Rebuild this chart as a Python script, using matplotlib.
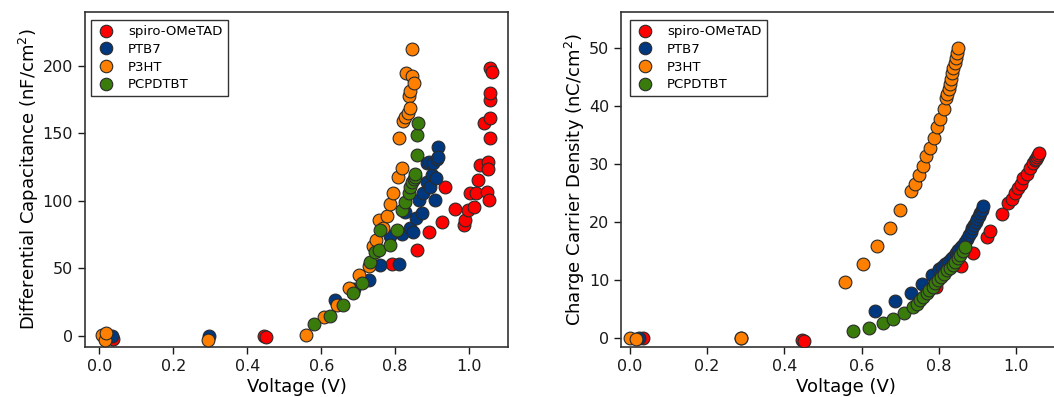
import matplotlib.pyplot as plt
from matplotlib.lines import Line2D

# Differential capacitance (nF/cm^2) vs voltage (V)
cap_spiro_v = [0.037, 0.445, 0.451, 0.791, 0.860, 0.890, 0.926, 0.935, 0.962, 0.985, 0.989,
               0.998, 1.012, 1.003, 1.019, 1.025, 1.030, 1.039, 1.048, 1.054, 1.052, 1.052,
               1.055, 1.057, 1.055, 1.055, 1.057, 1.063]
cap_spiro = [-2.4, 0.0, -0.5, 53.3, 63.6, 77.2, 84.6, 110.5, 93.7, 82.0, 85.8,
             93.2, 95.7, 105.6, 105.6, 115.4, 126.5, 157.8, 106.8, 100.6, 129.0, 123.3,
             146.7, 161.5, 174.6, 180.0, 198.0, 195.0]

cap_ptb7_v = [0.033, 0.297, 0.638, 0.689, 0.728, 0.759, 0.786, 0.809, 0.818, 0.827, 0.840,
              0.849, 0.855, 0.863, 0.872, 0.876, 0.885, 0.886, 0.892, 0.895, 0.899, 0.903,
              0.908, 0.910, 0.913, 0.915, 0.917]
cap_ptb7 = [0.0, 0.0, 26.6, 35.0, 41.4, 52.5, 74.0, 53.3, 75.5, 92.0, 80.0,
            77.0, 87.0, 100.6, 90.8, 105.6, 114.0, 128.0, 129.0, 110.5, 119.0, 127.8,
            100.6, 116.7, 131.0, 139.6, 132.7]

cap_p3ht_v = [0.006, 0.015, 0.019, 0.294, 0.558, 0.607, 0.642, 0.675, 0.703, 0.730, 0.739,
              0.748, 0.755, 0.768, 0.777, 0.786, 0.795, 0.807, 0.811, 0.818, 0.822, 0.827,
              0.830, 0.834, 0.836, 0.840, 0.840, 0.845, 0.845, 0.852]
cap_p3ht = [0.7, -3.0, 2.4, -3.0, 0.7, 13.8, 22.7, 35.7, 45.0, 52.0, 66.3,
            71.0, 85.8, 79.7, 88.8, 98.0, 106.0, 117.4, 146.3, 124.0, 159.3, 161.8,
            194.4, 165.2, 177.6, 168.5, 181.5, 192.4, 212.0, 187.4]

cap_pcpdtbt_v = [0.579, 0.624, 0.660, 0.687, 0.710, 0.732, 0.745, 0.755, 0.760, 0.786, 0.804,
                 0.818, 0.827, 0.836, 0.840, 0.845, 0.850, 0.854, 0.854, 0.858, 0.859, 0.861]
cap_pcpdtbt = [8.9, 15.0, 23.0, 32.0, 39.0, 55.0, 62.4, 63.6, 78.4, 67.3, 78.4,
               93.2, 99.4, 105.6, 110.5, 114.0, 116.0, 118.0, 120.0, 134.0, 148.7, 157.8]

# Charge carrier density (nC/cm^2) vs voltage (V)
chg_spiro_v = [0.035, 0.447, 0.452, 0.793, 0.857, 0.889, 0.926, 0.933, 0.963, 0.980, 0.989,
               0.997, 1.006, 1.012, 1.019, 1.028, 1.036, 1.043, 1.049, 1.053, 1.055, 1.058, 1.060]
chg_spiro = [0.0, -0.4, -0.5, 8.7, 12.4, 14.6, 17.3, 18.4, 21.3, 23.2, 24.0,
             24.9, 25.8, 26.6, 27.5, 28.3, 29.2, 30.1, 30.6, 30.9, 31.2, 31.5, 31.9]

chg_ptb7_v = [0.024, 0.288, 0.635, 0.687, 0.728, 0.756, 0.782, 0.800, 0.808, 0.817, 0.825,
              0.832, 0.838, 0.845, 0.851, 0.857, 0.862, 0.867, 0.872, 0.878, 0.883, 0.887,
              0.891, 0.896, 0.900, 0.904, 0.907, 0.911, 0.914]
chg_ptb7 = [0.0, 0.0, 4.6, 6.3, 7.8, 9.2, 10.8, 11.8, 12.2, 12.7, 13.1,
            13.6, 14.0, 14.6, 15.1, 15.6, 16.0, 16.6, 17.1, 17.7, 18.3, 18.9,
            19.4, 19.9, 20.4, 21.0, 21.6, 22.1, 22.7]

chg_p3ht_v = [0.000, 0.016, 0.288, 0.558, 0.603, 0.641, 0.674, 0.700, 0.727, 0.738, 0.748,
              0.758, 0.766, 0.777, 0.787, 0.796, 0.804, 0.813, 0.818, 0.822, 0.826, 0.829,
              0.832, 0.835, 0.838, 0.841, 0.844, 0.847, 0.851]
chg_p3ht = [0.0, -0.3, 0.0, 9.7, 12.8, 15.9, 19.0, 22.1, 25.3, 26.6, 28.1,
            29.7, 31.3, 32.8, 34.4, 36.3, 37.7, 39.5, 41.3, 42.1, 43.0, 43.8,
            44.7, 45.6, 46.5, 47.4, 48.3, 49.1, 50.0]

chg_pcpdtbt_v = [0.579, 0.620, 0.655, 0.682, 0.710, 0.734, 0.743, 0.751, 0.760, 0.769, 0.776,
                 0.784, 0.791, 0.799, 0.806, 0.813, 0.821, 0.829, 0.836, 0.842, 0.849, 0.855,
                 0.862, 0.868]
chg_pcpdtbt = [1.15, 1.6, 2.5, 3.2, 4.2, 5.3, 5.8, 6.5, 7.1, 7.7, 8.3,
               8.8, 9.4, 9.9, 10.5, 11.0, 11.6, 12.1, 12.6, 13.1, 13.7, 14.3,
               14.9, 15.6]

labels = ["spiro-OMeTAD", "PTB7", "P3HT", "PCPDTBT"]
colors = ["#ff0000", "#00387f", "#ff8000", "#3a7c0c"]
draw_order = [0, 1, 3, 2]  # red at the bottom, orange on top

plt.rcParams['font.family'] = 'DejaVu Sans'
fig = plt.figure(figsize=(10.54, 3.97), dpi=100)

W, H = 1054.0, 397.0
ax1 = fig.add_axes([85 / W, 50 / H, 423 / W, 335 / H])
ax2 = fig.add_axes([621 / W, 50 / H, 449 / W, 335 / H])  # right edge runs off the figure

panels = [
    (ax1, [cap_spiro_v, cap_ptb7_v, cap_p3ht_v, cap_pcpdtbt_v],
     [cap_spiro, cap_ptb7, cap_p3ht, cap_pcpdtbt],
     "Differential Capacitance (nF/cm$^{2}$)", (-0.039, 1.105), (-8.1, 239.7), range(0, 201, 50)),
    (ax2, [chg_spiro_v, chg_ptb7_v, chg_p3ht_v, chg_pcpdtbt_v],
     [chg_spiro, chg_ptb7, chg_p3ht, chg_pcpdtbt],
     "Charge Carrier Density (nC/cm$^{2}$)", (-0.023, 1.140), (-1.6, 56.2), range(0, 51, 10)),
]

for ax, xs, ys, ylabel, xlim, ylim, yticks in panels:
    for k in draw_order:
        ax.scatter(xs[k], ys[k], s=85, color=colors[k], edgecolor="#2a2a2a",
                   linewidth=0.8, zorder=3 + k)
    ax.set_xlim(*xlim)
    ax.set_ylim(*ylim)
    ax.set_xticks([0.0, 0.2, 0.4, 0.6, 0.8, 1.0])
    ax.set_xticklabels(["0.0", "0.2", "0.4", "0.6", "0.8", "1.0"])
    ax.set_yticks(list(yticks))
    ax.tick_params(direction="out", length=5, width=1, labelsize=11.5, colors="#1a1a1a")
    for sp in ax.spines.values():
        sp.set_linewidth(1.2)
        sp.set_color("#333333")
    ax.set_xlabel("Voltage (V)", fontsize=13, labelpad=3)
    ax.set_ylabel(ylabel, fontsize=13, labelpad=1)

handles = [Line2D([], [], linestyle="none", marker="o", markersize=9, markerfacecolor=c,
                  markeredgecolor="#2a2a2a", markeredgewidth=0.8) for c in colors]
for x0 in (91 / W, 630 / W):
    fig.legend(handles, labels, loc="upper left", bbox_to_anchor=(x0, 1 - 20 / H),
               bbox_transform=fig.transFigure, fontsize=9.5, frameon=True, fancybox=False,
               edgecolor="#333333", framealpha=1, borderaxespad=0, handletextpad=0.9,
               labelspacing=0.35, borderpad=0.4, handlelength=1.5)

fig.savefig("out.png", dpi=100)
